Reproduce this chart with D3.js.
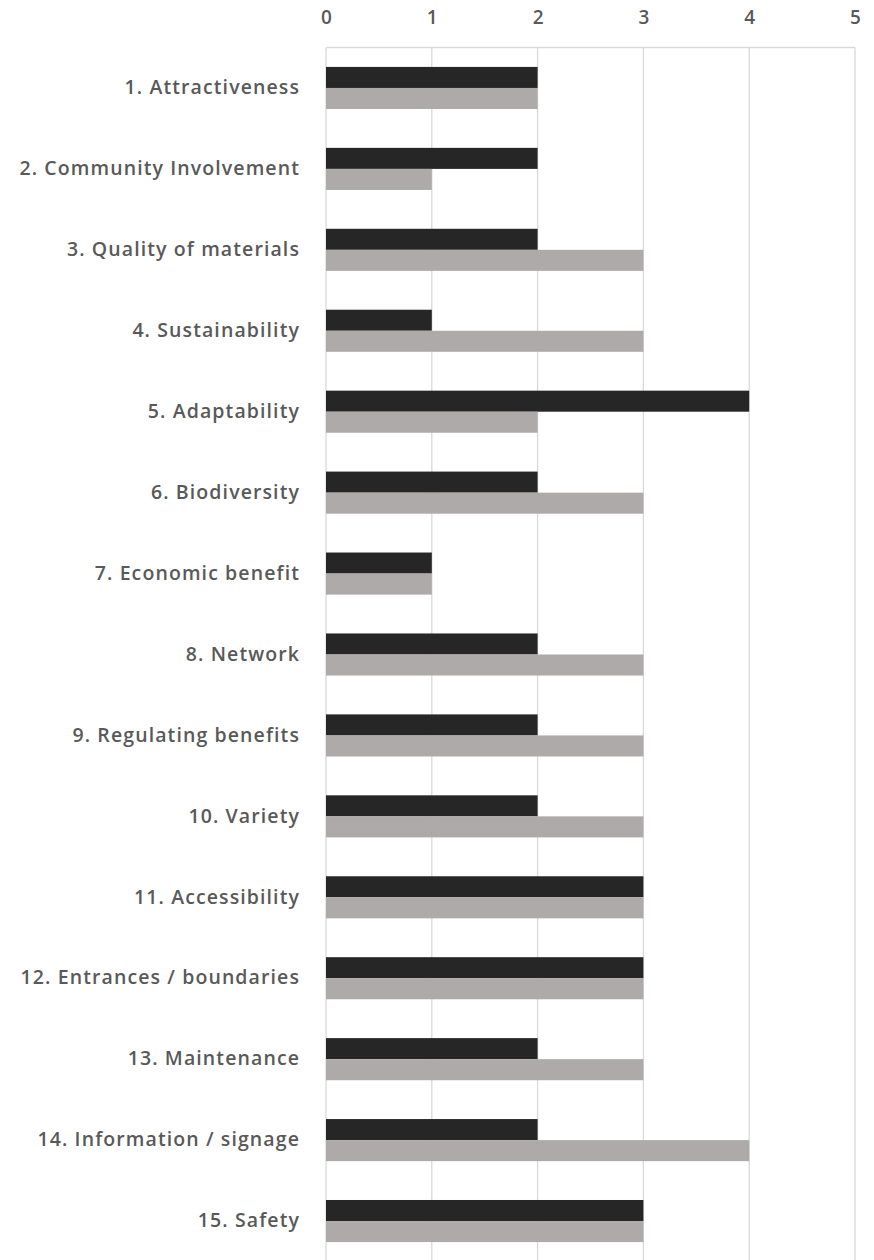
<!DOCTYPE html>
<html lang="en">
<head>
  <meta charset="utf-8">
  <script src="https://d3js.org/d3.v7.min.js"></script>
  <title>Bar Chart</title>
  <style>
    body { margin: 0; background: #fff; }
    text { font-family: "Open Sans", sans-serif; fill: #595959; }
  </style>
</head>
<body>
  <div id="my_dataviz"></div>
<script>
  // data
  const categories = [
    "1. Attractiveness", "2. Community Involvement", "3. Quality of materials",
    "4. Sustainability", "5. Adaptability", "6. Biodiversity", "7. Economic benefit",
    "8. Network", "9. Regulating benefits", "10. Variety", "11. Accessibility",
    "12. Entrances / boundaries", "13. Maintenance", "14. Information / signage", "15. Safety"
  ];
  const seriesDark = [2, 2, 2, 1, 4, 2, 1, 2, 2, 2, 3, 3, 2, 2, 3];
  const seriesGray = [2, 1, 3, 3, 2, 3, 1, 3, 3, 3, 3, 3, 3, 4, 3];
  const ticks = [0, 1, 2, 3, 4, 5];

  const width = 874, height = 1260;
  const plot = { left: 326, right: 855, top: 47.5, bottom: 1261.5 };

  const svg = d3.select("#my_dataviz")
    .append("svg")
    .attr("width", width)
    .attr("height", height);

  const x = d3.scaleLinear().domain([0, 5]).range([plot.left, plot.right]);

  const y0 = d3.scaleBand()
    .domain(categories)
    .range([plot.top, plot.bottom])
    .paddingInner(0.48)
    .paddingOuter(0.24);

  const y1 = d3.scaleBand()
    .domain(["dark", "gray"])
    .range([0, y0.bandwidth()]);

  // gridlines
  svg.append("g")
    .selectAll("line")
    .data(ticks)
    .join("line")
    .attr("x1", d => x(d)).attr("x2", d => x(d))
    .attr("y1", plot.top).attr("y2", plot.bottom)
    .attr("stroke", "#d9d9d9")
    .attr("stroke-width", 1.3);

  svg.append("line")
    .attr("x1", x(0)).attr("x2", x(5))
    .attr("y1", plot.top).attr("y2", plot.top)
    .attr("stroke", "#d9d9d9")
    .attr("stroke-width", 1.3);

  // top axis
  const xAxis = svg.append("g")
    .attr("transform", `translate(0, ${plot.top})`)
    .call(d3.axisTop(x).tickValues(ticks).tickFormat(d3.format("d")).tickSize(0).tickPadding(24));
  xAxis.select(".domain").remove();
  xAxis.selectAll("text")
    .style("font-size", "19px")
    .style("font-weight", "600")
    .attr("fill", "#595959");

  // category labels
  const yAxis = svg.append("g")
    .attr("transform", `translate(${plot.left}, 0)`)
    .call(d3.axisLeft(y0).tickSize(0).tickPadding(26));
  yAxis.select(".domain").remove();
  yAxis.selectAll("text")
    .style("font-size", "19.5px")
    .style("font-weight", "600")
    .style("letter-spacing", "1.1px")
    .attr("fill", "#595959");

  // bars
  const rows = categories.map((c, i) => ({ cat: c, dark: seriesDark[i], gray: seriesGray[i] }));
  const colors = { dark: "#262626", gray: "#aeaaaa" };

  svg.append("g")
    .selectAll("g")
    .data(rows)
    .join("g")
    .attr("transform", d => `translate(0, ${y0(d.cat)})`)
    .selectAll("rect")
    .data(d => ["dark", "gray"].map(k => ({ key: k, value: d[k] })))
    .join("rect")
    .attr("x", x(0))
    .attr("y", d => y1(d.key))
    .attr("width", d => x(d.value) - x(0))
    .attr("height", y1.bandwidth())
    .attr("fill", d => colors[d.key]);
</script>
</body>
</html>
